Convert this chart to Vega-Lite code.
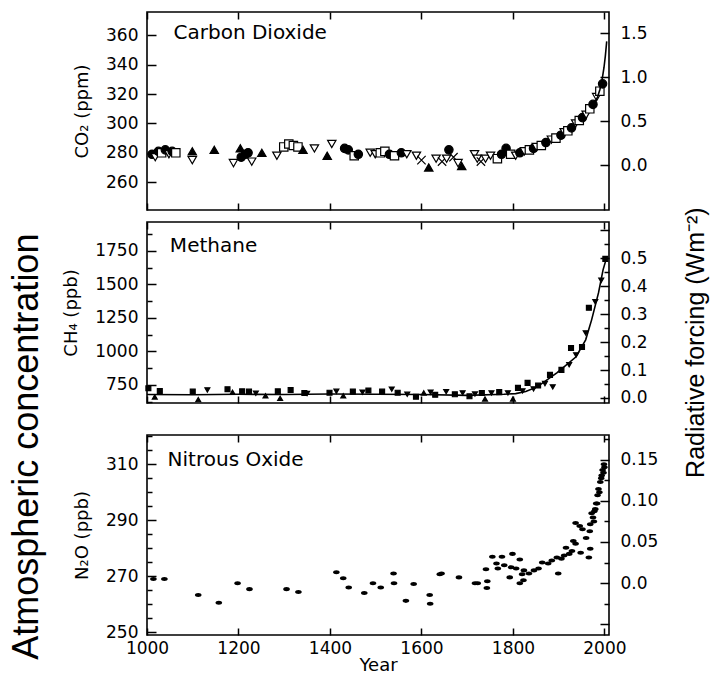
{
  "$schema": "https://vega.github.io/schema/vega-lite/v6.json",
  "padding": {"left": 8, "top": 10, "right": 6, "bottom": 3},
  "background": "white",
  "config": {
    "font": "DejaVu Sans",
    "view": {"stroke": "black", "strokeWidth": 1.6},
    "scale": {"continuousPadding": 0},
    "axis": {"domain": false, "grid": false, "labelOverlap": false, "labelFlush": false, "labelBound": false, "labelFont": "DejaVu Sans", "labelFontSize": 17, "labelColor": "black", "tickColor": "black", "tickWidth": 1.5, "titleFont": "DejaVu Sans", "titleFontSize": 18, "titleFontWeight": "normal", "titleColor": "black"}
  },
  "datasets": {
    "co2": [
      {"year":1011,"ppm":279,"m":"circ"},{"year":1018,"ppm":277,"m":"down"},{"year":1025,"ppm":281,"m":"circ"},{"year":1032,"ppm":280,"m":"sq"},{"year":1040,"ppm":282,"m":"circ"},{"year":1048,"ppm":279,"m":"down"},{"year":1055,"ppm":281,"m":"circ"},{"year":1063,"ppm":280,"m":"sq"},
      {"year":1099,"ppm":281,"m":"up"},{"year":1099,"ppm":275,"m":"down"},{"year":1147,"ppm":282,"m":"up"},{"year":1189,"ppm":273,"m":"down"},{"year":1204,"ppm":283,"m":"up"},{"year":1206,"ppm":277,"m":"circ"},{"year":1215,"ppm":279,"m":"circ"},{"year":1221,"ppm":280,"m":"circ"},{"year":1229,"ppm":274,"m":"down"},{"year":1251,"ppm":280,"m":"up"},
      {"year":1284,"ppm":278,"m":"down"},{"year":1299,"ppm":284,"m":"sq"},{"year":1310,"ppm":286,"m":"sq"},{"year":1320,"ppm":285,"m":"sq"},{"year":1330,"ppm":284,"m":"sq"},{"year":1341,"ppm":282,"m":"up"},{"year":1366,"ppm":283,"m":"down"},{"year":1394,"ppm":278,"m":"up"},{"year":1404,"ppm":286,"m":"down"},
      {"year":1432,"ppm":283,"m":"circ"},{"year":1440,"ppm":282,"m":"circ"},{"year":1453,"ppm":278,"m":"sq"},{"year":1462,"ppm":279,"m":"circ"},{"year":1488,"ppm":280,"m":"down"},{"year":1499,"ppm":279,"m":"down"},{"year":1510,"ppm":280,"m":"sq"},{"year":1520,"ppm":281,"m":"sq"},{"year":1530,"ppm":279,"m":"circ"},{"year":1541,"ppm":278,"m":"sq"},
      {"year":1556,"ppm":280,"m":"circ"},{"year":1568,"ppm":279,"m":"down"},{"year":1589,"ppm":278,"m":"down"},{"year":1600,"ppm":275,"m":"x"},{"year":1616,"ppm":270,"m":"up"},{"year":1632,"ppm":276,"m":"down"},{"year":1645,"ppm":274,"m":"x"},{"year":1655,"ppm":276,"m":"down"},{"year":1660,"ppm":282,"m":"circ"},{"year":1670,"ppm":277,"m":"x"},{"year":1680,"ppm":273,"m":"down"},{"year":1688,"ppm":271,"m":"up"},
      {"year":1716,"ppm":279,"m":"down"},{"year":1722,"ppm":276,"m":"down"},{"year":1730,"ppm":274,"m":"x"},{"year":1740,"ppm":276,"m":"down"},{"year":1751,"ppm":278,"m":"down"},{"year":1766,"ppm":276,"m":"sq"},{"year":1775,"ppm":279,"m":"circ"},{"year":1785,"ppm":283,"m":"circ"},{"year":1795,"ppm":279,"m":"sq"},{"year":1806,"ppm":278,"m":"down"},
      {"year":1815,"ppm":280,"m":"circ"},{"year":1825,"ppm":281,"m":"down"},{"year":1836,"ppm":282,"m":"sq"},{"year":1845,"ppm":283,"m":"circ"},{"year":1851,"ppm":284,"m":"down"},{"year":1862,"ppm":285,"m":"sq"},{"year":1872,"ppm":287,"m":"circ"},{"year":1884,"ppm":289,"m":"down"},{"year":1894,"ppm":290,"m":"sq"},{"year":1905,"ppm":292,"m":"circ"},
      {"year":1912,"ppm":294,"m":"down"},{"year":1920,"ppm":295,"m":"sq"},{"year":1928,"ppm":297,"m":"circ"},{"year":1937,"ppm":300,"m":"down"},{"year":1945,"ppm":302,"m":"sq"},{"year":1952,"ppm":304,"m":"circ"},{"year":1960,"ppm":306,"m":"down"},{"year":1968,"ppm":310,"m":"sq"},{"year":1975,"ppm":313,"m":"circ"},{"year":1983,"ppm":318,"m":"down"},{"year":1990,"ppm":322,"m":"sq"},{"year":1996,"ppm":327,"m":"circ"}
    ],
    "co2fit": [
      {"year":1975,"ppm":312},{"year":1985,"ppm":318},{"year":1990,"ppm":323},{"year":1995,"ppm":330},{"year":1999,"ppm":338},{"year":2002,"ppm":346},{"year":2005,"ppm":356}
    ],
    "ch4": [
      {"year":1003,"ppb":725,"m":"sq"},{"year":1017,"ppb":660,"m":"tri"},{"year":1028,"ppb":705,"m":"sq"},{"year":1100,"ppb":700,"m":"sq"},{"year":1112,"ppb":640,"m":"tri"},{"year":1132,"ppb":712,"m":"dash"},{"year":1176,"ppb":718,"m":"sq"},{"year":1187,"ppb":695,"m":"tri"},{"year":1208,"ppb":702,"m":"sq"},{"year":1223,"ppb":700,"m":"sq"},
      {"year":1238,"ppb":688,"m":"dash"},{"year":1259,"ppb":668,"m":"tri"},{"year":1286,"ppb":702,"m":"sq"},{"year":1291,"ppb":650,"m":"tri"},{"year":1314,"ppb":712,"m":"sq"},{"year":1344,"ppb":690,"m":"sq"},{"year":1350,"ppb":686,"m":"dash"},{"year":1399,"ppb":692,"m":"sq"},{"year":1414,"ppb":702,"m":"dash"},{"year":1429,"ppb":668,"m":"tri"},
      {"year":1450,"ppb":700,"m":"sq"},{"year":1471,"ppb":696,"m":"dash"},{"year":1484,"ppb":708,"m":"sq"},{"year":1514,"ppb":700,"m":"sq"},{"year":1535,"ppb":718,"m":"dash"},{"year":1548,"ppb":692,"m":"sq"},{"year":1569,"ppb":680,"m":"dash"},{"year":1588,"ppb":662,"m":"sq"},{"year":1605,"ppb":690,"m":"tri"},{"year":1620,"ppb":696,"m":"dash"},
      {"year":1630,"ppb":676,"m":"sq"},{"year":1654,"ppb":700,"m":"dash"},{"year":1673,"ppb":680,"m":"sq"},{"year":1690,"ppb":690,"m":"dash"},{"year":1705,"ppb":665,"m":"sq"},{"year":1717,"ppb":682,"m":"dash"},{"year":1732,"ppb":690,"m":"sq"},{"year":1739,"ppb":645,"m":"tri"},{"year":1753,"ppb":690,"m":"dash"},{"year":1770,"ppb":696,"m":"sq"},
      {"year":1789,"ppb":690,"m":"dash"},{"year":1800,"ppb":645,"m":"tri"},{"year":1811,"ppb":728,"m":"sq"},{"year":1821,"ppb":705,"m":"dash"},{"year":1832,"ppb":765,"m":"sq"},{"year":1845,"ppb":720,"m":"dash"},{"year":1855,"ppb":745,"m":"sq"},{"year":1870,"ppb":760,"m":"dash"},{"year":1881,"ppb":825,"m":"sq"},{"year":1887,"ppb":735,"m":"dash"},
      {"year":1906,"ppb":862,"m":"sq"},{"year":1923,"ppb":900,"m":"dash"},{"year":1927,"ppb":1025,"m":"sq"},{"year":1938,"ppb":974,"m":"dash"},{"year":1951,"ppb":1033,"m":"sq"},{"year":1959,"ppb":1138,"m":"dash"},{"year":1966,"ppb":1325,"m":"sq"},{"year":1980,"ppb":1370,"m":"dash"},{"year":1993,"ppb":1530,"m":"dash"},{"year":2002,"ppb":1690,"m":"sq"}
    ],
    "ch4fit": [
      {"year":1000,"ppb":678},{"year":1100,"ppb":676},{"year":1200,"ppb":680},{"year":1300,"ppb":678},{"year":1400,"ppb":682},{"year":1500,"ppb":680},{"year":1600,"ppb":678},{"year":1700,"ppb":672},{"year":1780,"ppb":680},{"year":1806,"ppb":685},{"year":1828,"ppb":700},{"year":1853,"ppb":735},{"year":1896,"ppb":840},{"year":1938,"ppb":960},{"year":1959,"ppb":1086},{"year":1972,"ppb":1235},{"year":1987,"ppb":1436},{"year":1997,"ppb":1608},{"year":2004,"ppb":1690}
    ],
    "n2o": [
      {"year":1014,"ppb":269},{"year":1038,"ppb":269},{"year":1112,"ppb":263.3},{"year":1157,"ppb":260.5},{"year":1198,"ppb":267.5},{"year":1224,"ppb":265.4},{"year":1305,"ppb":265.4},{"year":1331,"ppb":264.4},{"year":1414,"ppb":271.4},{"year":1429,"ppb":269.3},{"year":1441,"ppb":266},{"year":1475,"ppb":264},{"year":1494,"ppb":267.5},{"year":1511,"ppb":266},
      {"year":1539,"ppb":271},{"year":1540,"ppb":267.5},{"year":1566,"ppb":261.2},{"year":1583,"ppb":267.2},{"year":1618,"ppb":263.3},{"year":1619,"ppb":260.2},{"year":1640,"ppb":270.7},{"year":1644,"ppb":271},{"year":1682,"ppb":269.6},{"year":1717,"ppb":267.5},{"year":1723,"ppb":267.5},
      {"year":1741,"ppb":272.5},{"year":1744,"ppb":268.2},{"year":1743,"ppb":265.8},{"year":1755,"ppb":277},{"year":1764,"ppb":274.6},{"year":1767,"ppb":272.8},{"year":1776,"ppb":277},{"year":1781,"ppb":273.9},{"year":1793,"ppb":269.6},{"year":1796,"ppb":273.2},{"year":1799,"ppb":278},{"year":1807,"ppb":272.8},{"year":1815,"ppb":267.5},{"year":1815,"ppb":276},{"year":1820,"ppb":270.7},{"year":1823,"ppb":268.6},{"year":1824,"ppb":272.1},
      {"year":1835,"ppb":271},{"year":1846,"ppb":272.1},{"year":1856,"ppb":272.8},{"year":1864,"ppb":274.9},{"year":1877,"ppb":274.6},{"year":1885,"ppb":275.6},{"year":1896,"ppb":276.7},{"year":1899,"ppb":271},{"year":1906,"ppb":276.3},{"year":1912,"ppb":277.4},{"year":1916,"ppb":280.2},{"year":1923,"ppb":278},{"year":1929,"ppb":279},{"year":1932,"ppb":282.6},{"year":1937,"ppb":281.6},{"year":1937,"ppb":289},
      {"year":1946,"ppb":288},{"year":1948,"ppb":278.4},{"year":1952,"ppb":286.8},{"year":1960,"ppb":283.7},{"year":1966,"ppb":276.7},{"year":1969,"ppb":279.8},{"year":1968,"ppb":286.1},{"year":1969,"ppb":288.6},{"year":1972,"ppb":292.5},{"year":1975,"ppb":291},{"year":1977,"ppb":289.6},{"year":1978,"ppb":293.2},{"year":1980,"ppb":294},{"year":1982,"ppb":296},{"year":1984,"ppb":296},{"year":1985,"ppb":299},{"year":1987,"ppb":301.2},{"year":1989,"ppb":300},{"year":1991,"ppb":303.7},{"year":1993,"ppb":305},{"year":1994,"ppb":306},{"year":1996,"ppb":308},{"year":1998,"ppb":307},{"year":1999,"ppb":310},{"year":2000,"ppb":309}
    ]
  },
  "title": {"text": "Radiative forcing (Wm⁻²)", "orient": "right", "angle": -90, "anchor": "middle", "font": "Liberation Sans Narrow, Liberation Sans", "fontSize": 25, "fontWeight": "normal", "color": "black", "offset": 0},
  "hconcat": [
    {
      "title": {"text": "Atmospheric concentration", "orient": "left", "anchor": "start", "dx": 15, "font": "Liberation Sans Narrow, Liberation Sans", "fontSize": 36, "fontWeight": "normal", "color": "black", "offset": 16},
      "spacing": 15,
      "vconcat": [
        {
          "spacing": 8,
          "vconcat": [
            {
              "width": 462, "height": 198,
              "layer": [
                {"layer": [
                  {"data": {"name": "co2"},
                   "mark": {"type": "point", "filled": true, "stroke": "black", "strokeWidth": 1.2, "size": 70, "opacity": 1},
                   "encoding": {
                     "x": {"field": "year", "type": "quantitative", "scale": {"domain": [1000, 2010], "nice": false, "padding": 0}, "axis": {"values": [1000,1200,1400,1600,1800,2000], "tickCount": 100, "labels": false, "title": null, "tickSize": -7}},
                     "y": {"field": "ppm", "type": "quantitative", "scale": {"domain": [241, 376], "nice": false, "zero": false, "padding": 0}, "axis": {"values": [260,280,300,320,340,360], "tickCount": 100, "labelOverlap": false, "tickSize": -9, "labelPadding": 18, "title": "CO₂ (ppm)", "titlePadding": 14}},
                     "shape": {"field": "m", "type": "nominal", "scale": {"domain": ["up","down","circ","sq","x"], "range": ["triangle-up","triangle-down","circle","square","M-1,-1L1,1M-1,1L1,-1"]}, "legend": null},
                     "fill": {"field": "m", "type": "nominal", "scale": {"domain": ["up","down","circ","sq","x"], "range": ["black","white","black","white","white"]}, "legend": null}
                   }},
                  {"data": {"name": "co2fit"},
                   "mark": {"type": "line", "color": "black", "strokeWidth": 1.6},
                   "encoding": {"x": {"field": "year", "type": "quantitative"}, "y": {"field": "ppm", "type": "quantitative"}}},
                  {"data": {"values": [{"label": "Carbon Dioxide"}]},
                   "mark": {"type": "text", "align": "left", "baseline": "middle", "fontSize": 20, "font": "DejaVu Sans", "color": "black"},
                   "encoding": {"x": {"datum": 1058, "type": "quantitative"}, "y": {"datum": 362, "type": "quantitative"}, "text": {"field": "label"}}}
                ]},
                {"data": {"values": [{"axis": "radiative forcing"}]},
                 "mark": {"type": "point", "opacity": 0},
                 "encoding": {
                   "x": {"datum": 1500, "type": "quantitative", "scale": {"domain": [1000, 2010], "nice": false, "padding": 0}, "axis": {"orient": "top", "values": [1000,1200,1400,1600,1800,2000], "tickCount": 100, "labels": false, "title": null, "tickSize": -7}},
                   "y": {"datum": 0, "type": "quantitative", "scale": {"domain": [-0.51, 1.74], "nice": false, "zero": false, "padding": 0}, "axis": {"orient": "right", "values": [0, 0.5, 1, 1.5], "tickCount": 100, "labelOverlap": false, "format": ".1f", "tickSize": -9, "labelPadding": 20, "title": null}}
                 }}
              ],
              "resolve": {"scale": {"y": "independent"}, "axis": {"x": "independent"}}
            },
            {
              "width": 462, "height": 181,
              "layer": [
                {"layer": [
                  {"data": {"name": "ch4"},
                   "mark": {"type": "point", "filled": true, "stroke": "black", "strokeWidth": 1.2, "size": 24, "opacity": 1, "color": "black"},
                   "encoding": {
                     "x": {"field": "year", "type": "quantitative", "scale": {"domain": [1000, 2010], "nice": false, "padding": 0}, "axis": {"values": [1000,1200,1400,1600,1800,2000], "tickCount": 100, "labels": false, "title": null, "tickSize": -7}},
                     "y": {"field": "ppb", "type": "quantitative", "scale": {"domain": [615, 1965], "nice": false, "zero": false, "padding": 0}, "axis": {"values": [625,750,875,1000,1125,1250,1375,1500,1625,1750,1875], "tickCount": 100, "labelOverlap": false, "labelExpr": "datum.value % 250 == 0 ? datum.label : ''", "format": "d", "tickSize": {"condition": {"test": "datum.value % 250 == 0", "value": -9}, "value": -5}, "labelPadding": 18, "title": "CH₄ (ppb)", "titlePadding": 14}},
                     "shape": {"field": "m", "type": "nominal", "scale": {"domain": ["sq","tri","dash"], "range": ["square","triangle-up","M-1,0L1,0"]}, "legend": null}
                   }},
                  {"data": {"name": "ch4fit"},
                   "mark": {"type": "line", "color": "black", "strokeWidth": 1.6},
                   "encoding": {"x": {"field": "year", "type": "quantitative"}, "y": {"field": "ppb", "type": "quantitative"}}},
                  {"data": {"values": [{"label": "Methane"}]},
                   "mark": {"type": "text", "align": "left", "baseline": "middle", "fontSize": 20, "font": "DejaVu Sans", "color": "black"},
                   "encoding": {"x": {"datum": 1050, "type": "quantitative"}, "y": {"datum": 1787, "type": "quantitative"}, "text": {"field": "label"}}}
                ]},
                {"data": {"values": [{"axis": "radiative forcing"}]},
                 "mark": {"type": "point", "opacity": 0},
                 "encoding": {
                   "x": {"datum": 1500, "type": "quantitative", "scale": {"domain": [1000, 2010], "nice": false, "padding": 0}, "axis": {"orient": "top", "values": [1000,1200,1400,1600,1800,2000], "tickCount": 100, "labels": false, "title": null, "tickSize": -7}},
                   "y": {"datum": 0, "type": "quantitative", "scale": {"domain": [-0.018, 0.63], "nice": false, "zero": false, "padding": 0}, "axis": {"orient": "right", "values": [0,0.05,0.1,0.15,0.2,0.25,0.3,0.35,0.4,0.45,0.5,0.55,0.6], "tickCount": 100, "labelOverlap": false, "labelExpr": "(round(datum.value*100) % 10 == 0 && datum.value <= 0.5) ? format(datum.value, '.1f') : ''", "tickSize": {"condition": {"test": "round(datum.value*100) % 10 == 0", "value": -9}, "value": -5}, "labelPadding": 20, "title": null}}
                 }}
              ],
              "resolve": {"scale": {"y": "independent"}, "axis": {"x": "independent"}}
            }
          ]
        },
        {
          "width": 462, "height": 200,
          "layer": [
            {"layer": [
              {"data": {"name": "n2o"},
               "mark": {"type": "point", "filled": true, "size": 45, "opacity": 1, "color": "black", "shape": "M-1,0A1,0.6,0,1,0,1,0A1,0.6,0,1,0,-1,0Z"},
               "encoding": {
                 "x": {"field": "year", "type": "quantitative", "scale": {"domain": [1000, 2010], "nice": false, "padding": 0}, "axis": {"values": [1000,1200,1400,1600,1800,2000], "tickCount": 100, "format": "d", "tickSize": -7, "labelPadding": 12, "title": "Year", "titlePadding": 0}},
                 "y": {"field": "ppb", "type": "quantitative", "scale": {"domain": [249, 320.5], "nice": false, "zero": false, "padding": 0}, "axis": {"values": [250,255,260,265,270,275,280,285,290,295,300,305,310,315,320], "tickCount": 100, "labelOverlap": false, "labelExpr": "(datum.value - 250) % 20 == 0 ? datum.label : ''", "tickSize": {"condition": {"test": "(datum.value - 250) % 20 == 0", "value": -9}, "value": -5}, "labelPadding": 18, "title": "N₂O (ppb)", "titlePadding": 14}}
               }},
              {"data": {"values": [{"label": "Nitrous Oxide"}]},
               "mark": {"type": "text", "align": "left", "baseline": "middle", "fontSize": 20, "font": "DejaVu Sans", "color": "black"},
               "encoding": {"x": {"datum": 1045, "type": "quantitative"}, "y": {"datum": 311.5, "type": "quantitative"}, "text": {"field": "label"}}}
            ]},
            {"data": {"values": [{"axis": "radiative forcing"}]},
             "mark": {"type": "point", "opacity": 0},
             "encoding": {
               "x": {"datum": 1500, "type": "quantitative", "scale": {"domain": [1000, 2010], "nice": false, "padding": 0}, "axis": {"orient": "top", "values": [1000,1200,1400,1600,1800,2000], "tickCount": 100, "labels": false, "title": null, "tickSize": -7}},
               "y": {"datum": 0, "type": "quantitative", "scale": {"domain": [-0.063, 0.18], "nice": false, "zero": false, "padding": 0}, "axis": {"orient": "right", "values": [-0.05,-0.025,0,0.025,0.05,0.075,0.1,0.125,0.15,0.175], "tickCount": 100, "labelOverlap": false, "labelExpr": "datum.value === 0 ? '0.0' : ((datum.value > 0 && datum.value < 0.16 && round(datum.value*1000) % 50 == 0) ? format(datum.value, '.2f') : '')", "tickSize": {"condition": {"test": "round(datum.value*1000) % 50 == 0", "value": -9}, "value": -5}, "labelPadding": 20, "title": null}}
             }}
          ],
          "resolve": {"scale": {"y": "independent"}, "axis": {"x": "independent"}}
        }
      ]
    }
  ]
}
